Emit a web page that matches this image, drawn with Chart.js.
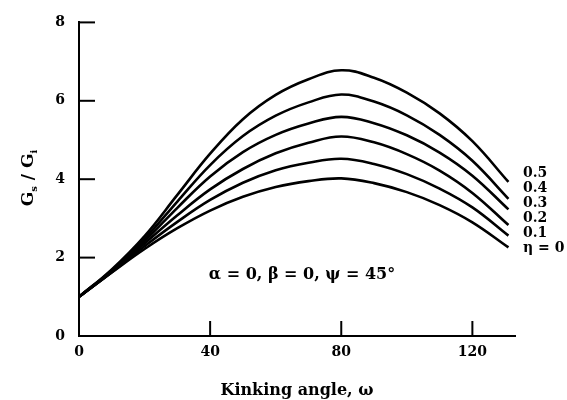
<!DOCTYPE html>
<html>
<head>
<meta charset="utf-8">
<script src="https://cdn.jsdelivr.net/npm/chart.js@4"></script>
<style>
  html, body { margin: 0; padding: 0; background: #fff; }
  #wrap { width: 567px; height: 400px; }
</style>
</head>
<body>
<div id="wrap"><canvas id="kinkChart"></canvas></div>
<script>
// kinking angle (deg)
const angles = [0, 10, 20, 30, 40, 50, 60, 70, 80, 90, 100, 110, 120, 131];

// Gs/Gi for each eta
const eta05 = [1, 1.70, 2.55, 3.60, 4.65, 5.53, 6.15, 6.55, 6.78, 6.59, 6.21, 5.68, 4.97, 3.93];
const eta04 = [1, 1.68, 2.48, 3.43, 4.36, 5.10, 5.62, 5.96, 6.16, 5.98, 5.63, 5.13, 4.47, 3.50];
const eta03 = [1, 1.66, 2.42, 3.27, 4.07, 4.69, 5.13, 5.42, 5.59, 5.43, 5.12, 4.68, 4.09, 3.23];
const eta02 = [1, 1.64, 2.36, 3.08, 3.74, 4.26, 4.66, 4.93, 5.09, 4.94, 4.64, 4.22, 3.65, 2.83];
const eta01 = [1, 1.63, 2.29, 2.91, 3.47, 3.91, 4.23, 4.42, 4.52, 4.39, 4.13, 3.76, 3.28, 2.56];
const eta00 = [1, 1.62, 2.22, 2.75, 3.20, 3.55, 3.80, 3.95, 4.02, 3.90, 3.67, 3.34, 2.90, 2.26];

const seriesList = [eta05, eta04, eta03, eta02, eta01, eta00];
const curveLabels = ['0.5', '0.4', '0.3', '0.2', '0.1', 'η = 0'];

const xTicks = [0, 40, 80, 120];
const yTicks = [0, 2, 4, 6, 8];

const serif = '"DejaVu Serif", "Liberation Serif", serif';

const figureText = {
    id: 'figureText',
    afterDraw(chart) {
        const c = chart.ctx;
        const xs = chart.scales.x, ys = chart.scales.y;
        c.save();
        c.strokeStyle = '#000';
        c.lineWidth = 2;
        // inward tick marks
        xTicks.slice(1).forEach(v => {
            const px = xs.getPixelForValue(v);
            c.beginPath();
            c.moveTo(px, ys.bottom);
            c.lineTo(px, ys.bottom - 15);
            c.stroke();
        });
        yTicks.slice(1).forEach(v => {
            const py = ys.getPixelForValue(v);
            c.beginPath();
            c.moveTo(xs.left, py);
            c.lineTo(xs.left + 16, py);
            c.stroke();
        });

        c.fillStyle = '#000';
        // annotation
        c.font = 'bold 16px ' + serif;
        c.textAlign = 'center';
        c.textBaseline = 'middle';
        c.fillText('α = 0, β = 0, ψ = 45°', 302, 275);

        // curve labels on the right
        c.font = 'bold 14px ' + serif;
        c.textAlign = 'left';
        curveLabels.forEach((t, i) => {
            c.fillText(t, 523, 173 + i * 15);
        });

        // y axis title with subscripts
        c.translate(27, 178);
        c.rotate(-Math.PI / 2);
        c.textAlign = 'left';
        c.textBaseline = 'alphabetic';
        const parts = [['G', 17, 0], ['s', 10, 4], [' / ', 17, 0], ['G', 17, 0], ['i', 10, 4]];
        let w = 0;
        parts.forEach(p => { c.font = 'bold ' + p[1] + 'px ' + serif; w += c.measureText(p[0]).width; });
        let x = -w / 2;
        parts.forEach(p => {
            c.font = 'bold ' + p[1] + 'px ' + serif;
            c.fillText(p[0], x, 6 + p[2]);
            x += c.measureText(p[0]).width;
        });
        c.restore();
    }
};

new Chart(document.getElementById('kinkChart').getContext('2d'), {
    type: 'line',
    data: {
        datasets: seriesList.map((vals, i) => ({
            label: curveLabels[i],
            data: angles.map((a, j) => ({ x: a, y: vals[j] })),
            borderColor: '#000',
            borderWidth: 2.6,
            pointRadius: 0,
            fill: false,
            tension: 0.4
        }))
    },
    options: {
        responsive: true,
        maintainAspectRatio: false,
        animation: false,
        layout: { padding: { left: 0, right: 52, top: 14, bottom: 0 } },
        plugins: { legend: { display: false }, tooltip: { enabled: false } },
        scales: {
            x: {
                type: 'linear',
                min: 0,
                max: 133,
                afterBuildTicks: s => { s.ticks = xTicks.map(v => ({ value: v })); },
                afterFit: s => { s.height = 64; },
                grid: { display: false, drawTicks: false },
                border: { display: true, color: '#000', width: 2 },
                ticks: {
                    padding: 8,
                    color: '#000',
                    maxRotation: 0,
                    font: { family: serif, size: 14, weight: 'bold' }
                },
                title: {
                    display: true,
                    text: 'Kinking angle, ω',
                    color: '#000',
                    padding: { top: 8, bottom: 0 },
                    font: { family: serif, size: 16, weight: 'bold' }
                }
            },
            y: {
                min: 0,
                max: 8,
                afterBuildTicks: s => { s.ticks = yTicks.map(v => ({ value: v })); },
                afterFit: s => { s.width = 79; },
                grid: { display: false, drawTicks: false },
                border: { display: true, color: '#000', width: 2 },
                ticks: {
                    padding: 14,
                    color: '#000',
                    font: { family: serif, size: 14, weight: 'bold' }
                }
            }
        }
    },
    plugins: [figureText]
});
</script>
</body>
</html>
